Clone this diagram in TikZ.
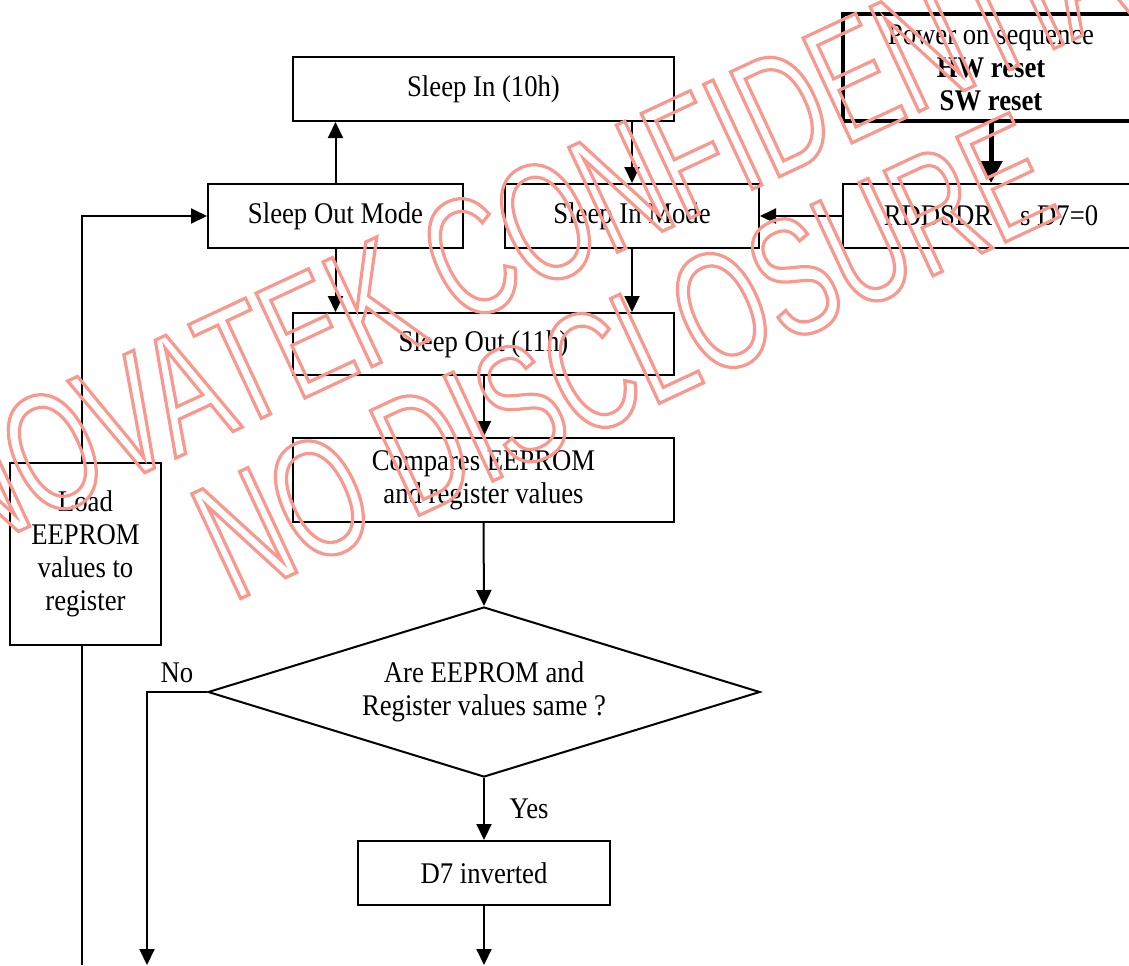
\documentclass[tikz,border=0pt]{standalone}
\usepackage{fontspec}
\setmainfont{Liberation Serif}[FakeStretch=0.89]
\newfontfamily\stampfont{Liberation Sans}[FakeStretch=0.66]
\usetikzlibrary{arrows.meta,shapes.geometric,positioning}

\definecolor{stampred}{RGB}{248,152,142}

% outlined letters (stroke only) for the stamp
\newcommand{\hollow}[1]{\special{pdf:literal direct 1 Tr 1.6 w}#1\special{pdf:literal direct 0 Tr}}

\begin{document}
\begin{tikzpicture}[x=0.5pt, y=-0.5pt,
    box/.style={draw, line width=1pt, inner sep=2pt, align=center,
      font=\fontsize{15pt}{16.5pt}\selectfont},
    lbl/.style={font=\fontsize{15pt}{16.5pt}\selectfont},
    flow/.style={line width=1pt, -{Triangle[length=8pt,width=7.5pt]}},
    stamp/.style={rotate=25, text=stampred, inner sep=0pt,
      font=\stampfont\fontsize{84pt}{84pt}\selectfont},
  ]
  \clip (0,0) rectangle (1129,965);

  % top row
  \node[box, minimum width=190.5pt, minimum height=32pt] (sleepin) at (483.5,89) {Sleep In (10h)};
  \node[box, line width=2.2pt, minimum width=148pt, minimum height=53.5pt] (power) at (991,67.5)
    {Power on sequence\\ \textbf{HW reset}\\ \textbf{SW reset}};

  % modes
  \node[box, minimum width=127.5pt, minimum height=32pt] (sleepoutmode) at (335.5,216) {Sleep Out Mode};
  \node[box, minimum width=127pt, minimum height=32pt] (sleepinmode) at (632,216) {Sleep In Mode};
  \node[box, minimum width=148pt, minimum height=32pt] (rddsdr) at (991,216) {RDDSDR\hspace{14pt}s D7=0};

  % main column
  \node[box, minimum width=190.5pt, minimum height=31pt] (sleepout) at (483.5,344) {Sleep Out (11h)};
  \node[box, minimum width=190.5pt, minimum height=42pt] (compare) at (483.5,480)
    {Compares EEPROM\\ and register values};
  \node[box, diamond, aspect=3.25, inner sep=0pt, minimum width=276pt, minimum height=85pt] (check) at (484,692)
    {Are EEPROM and\\ Register values same ?};
  \node[box, minimum width=126pt, minimum height=32pt] (invert) at (484,873) {D7 inverted};

  % reload box on the left
  \node[box, minimum width=75.5pt, minimum height=91pt] (load) at (85.5,554)
    {Load\\ EEPROM\\ values to\\ register};

  \coordinate (noend) at (147,965);
  \coordinate (yesend) at (484,965);
  \coordinate (loopend) at (82,965);

  % connectors
  \draw[flow] (sleepoutmode.north) -- (sleepoutmode.north |- sleepin.south);
  \draw[flow] (sleepinmode.north |- sleepin.south) -- (sleepinmode.north);
  \draw[line width=2.5pt, -{Triangle[length=11pt,width=11pt]}] (power.south) -- (rddsdr.north);
  \draw[flow] (rddsdr.west) -- (sleepinmode.east);
  \draw[flow] (sleepoutmode.south) -- (sleepoutmode.south |- sleepout.north);
  \draw[flow] (sleepinmode.south) -- (sleepinmode.south |- sleepout.north);
  \draw[flow] (sleepout.south) -- (compare.north);
  \draw[flow] (compare.south) -- (check.north);
  \draw[flow] (check.south) -- node[lbl, right=9pt] {Yes} (invert.north);
  \draw[flow] (check.west) -| node[lbl, pos=0.25, above=1pt] {No} (noend);
  \draw[flow] (invert.south) -- (yesend);
  \draw[line width=1pt] (loopend) -- (loopend |- load.south);
  \draw[flow] (loopend |- load.north) |- (sleepoutmode.west);

  % stamp across the sheet
  \node[stamp] (stampa) at (556,217) {\hollow{NOVATEK CONFIDENTIAL}};
  \node[stamp] (stampb) at (624,356) {\hollow{NO DISCLOSURE}};
\end{tikzpicture}
\end{document}
